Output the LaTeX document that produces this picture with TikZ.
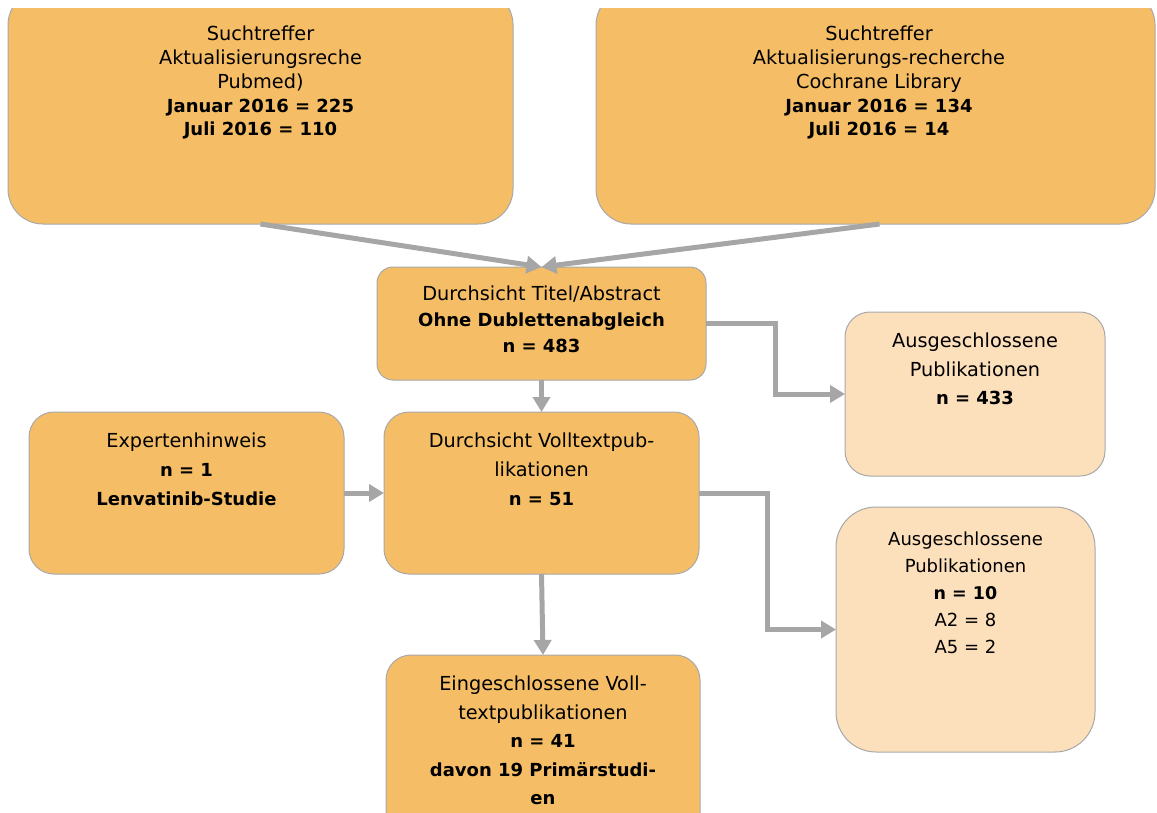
\documentclass[tikz,border=0pt]{standalone}
\usepackage{fontspec}
\setmainfont{DejaVu Sans}
\usetikzlibrary{arrows.meta}
\definecolor{boxor}{HTML}{F5BE66}
\definecolor{boxpe}{HTML}{FCDFBB}
\definecolor{edgegr}{HTML}{A8A8A8}
\definecolor{arrgr}{HTML}{A6A6A6}
\newcommand\bt[1]{{\fontsize{18}{28}\selectfont\bfseries #1}}
\newcommand\bts[1]{{\fontsize{17.5}{27}\selectfont\bfseries #1}}
\begin{document}
\begin{tikzpicture}[x=1pt,y=-1pt,
  box/.style={draw=edgegr, line width=1pt, rounded corners=#1, inner sep=0pt, outer sep=0pt},
  orbox/.style={box=#1, fill=boxor},
  pebox/.style={box=#1, fill=boxpe},
  txt/.style={anchor=north, align=center, inner sep=0pt, font=\fontsize{19.3}{#1}\selectfont},
  conn/.style={draw=arrgr, line width=5pt, -{Triangle[length=15pt,width=17pt]}}]
\useasboundingbox (0,0) rectangle (1157,812);
\begin{scope}
\clip (0,8) rectangle (1157,812);
% top boxes
\node[orbox=35, minimum width=505pt, minimum height=234pt] (A) at (260.5,107) {};
\node[orbox=35, minimum width=559pt, minimum height=234pt] (B) at (875.5,107) {};
\node[txt=23.75] (At) at (260.5,26) {Suchtreffer\\Aktualisierungsreche\\Pubmed)\\\bt{Januar 2016 = 225}\\\bt{Juli 2016 = 110}};
\node[txt=23.75] (Bt) at (879,26) {Suchtreffer\\Aktualisierungs-recherche\\Cochrane Library\\\bt{Januar 2016 = 134}\\\bt{Juli 2016 = 14}};
% middle
\node[orbox=16, minimum width=329pt, minimum height=113pt] (C) at (541.5,323.5) {};
\node[txt=26] (Ct) at (541.5,286) {Durchsicht Titel/Abstract\\\bt{Ohne Dublettenabgleich}\\\bt{n = 483}};
\node[pebox=25, minimum width=260pt, minimum height=164pt] (F) at (975,394) {};
\node[txt=28.5] (Ft) at (975,333) {Ausgeschlossene\\Publikationen\\\bt{n = 433}};
\node[orbox=25, minimum width=315pt, minimum height=162pt] (D) at (541.5,493) {};
\node[txt=29] (Dt) at (541.5,433) {Durchsicht Volltextpub-\\likationen\\\bt{n = 51}};
\node[orbox=25, minimum width=315pt, minimum height=162pt] (E) at (186.5,493) {};
\node[txt=29] (Et) at (186.5,433) {Expertenhinweis\\\bt{n = 1}\\\bt{Lenvatinib-Studie}};
\node[pebox=40, minimum width=259pt, minimum height=245pt] (G) at (965.5,629.5) {};
\node[txt=27, font=\fontsize{18}{27}\selectfont] (Gt) at (965.5,532) {Ausgeschlossene\\Publikationen\\\bts{n = 10}\\A2 = 8\\A5 = 2};
\node[orbox=25, minimum width=314pt, minimum height=185pt] (H) at (543,747.5) {};
\node[txt=28.5] (Ht) at (543,676) {Eingeschlossene Voll-\\textpublikationen\\\bt{n = 41}\\\bt{davon 19 Primärstudi-}\\\bt{en}};
\end{scope}
% connectors
\draw[conn] (A.south) -- (C.north);
\draw[conn] ([xshift=4pt]B.south) -- (C.north);
\draw[conn] (C.south) -- (D.north);
\draw[conn] (E.east) -- (D.west);
\draw[conn] (C.east) -- ++(69,0) |- (F.west);
\draw[conn] (D.east) -- ++(68,0) |- (G.west);
\draw[conn] (D.south) -- (H.north);
\end{tikzpicture}
\end{document}
